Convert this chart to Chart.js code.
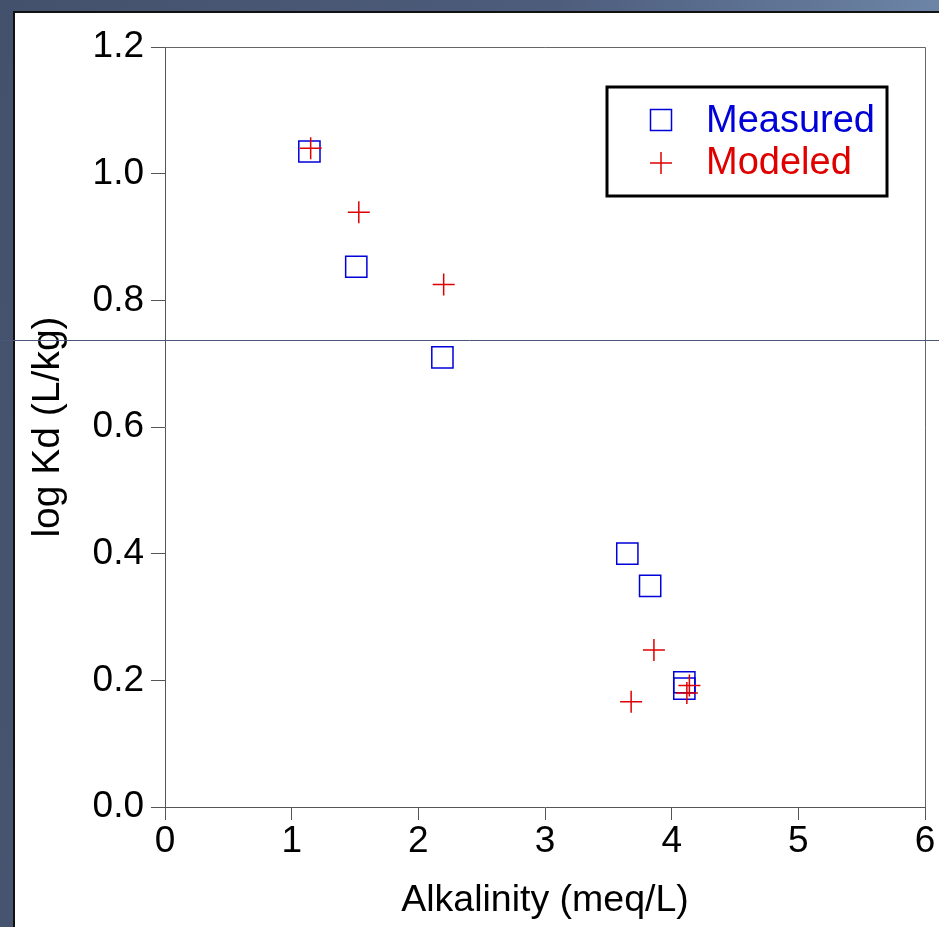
<!DOCTYPE html>
<html>
<head>
<meta charset="utf-8">
<script src="https://cdn.jsdelivr.net/npm/chart.js@4/dist/chart.umd.min.js"></script>
<style>
  html, body { margin:0; padding:0; width:939px; height:927px; overflow:hidden; }
  body { background: linear-gradient(100deg, #44516c 0%, #4d5c7b 50%, #6c84a6 85%, #7f98b8 100%); position:relative; }
  #panel { position:absolute; left:13px; top:11px; width:930px; height:920px; background:#fff; border-left:2px solid #111; border-top:2px solid #111; }
  #c { position:absolute; left:0; top:0; }
</style>
</head>
<body>
<div id="panel"></div>
<canvas id="c" width="939" height="927"></canvas>
<script>
// ---- data ----
const seriesNames = ["Measured", "Modeled"];
const measuredX = [1.14, 1.51, 2.19, 3.65, 3.83, 4.10, 4.10];
const measuredY = [1.035, 0.853, 0.710, 0.400, 0.349, 0.197, 0.187];
const modeledX  = [1.15, 1.53, 2.20, 3.86, 3.68, 4.14, 4.12];
const modeledY  = [1.040, 0.939, 0.825, 0.248, 0.166, 0.192, 0.180];
const xTickValues = [0, 1, 2, 3, 4, 5, 6];
const yTickValues = [0.0, 0.2, 0.4, 0.6, 0.8, 1.0, 1.2];
const xTitle = "Alkalinity (meq/L)";
const yTitle = "log Kd (L/kg)";

const FONT = "'Liberation Sans', Arial, sans-serif";
const BLUE = "#0000d8";
const RED = "#e00000";

const toPts = (xs, ys) => xs.map((x, i) => ({x: x, y: ys[i]}));

const extras = {
  id: 'extras',
  afterDraw(chart) {
    const ctx = chart.ctx;
    const a = chart.chartArea;
    ctx.save();
    // top and right frame of plot
    ctx.strokeStyle = '#666';
    ctx.lineWidth = 1;
    ctx.beginPath();
    ctx.moveTo(a.left, a.top + 0.5);
    ctx.lineTo(a.right + 0.5, a.top + 0.5);
    ctx.lineTo(a.right + 0.5, a.bottom);
    ctx.stroke();

    // legend
    const bx = 607, by = 87, bw = 280, bh = 109;
    ctx.lineWidth = 3;
    ctx.strokeStyle = '#000';
    ctx.strokeRect(bx, by, bw, bh);
    ctx.font = "38px " + FONT;
    ctx.textBaseline = 'middle';
    ctx.textAlign = 'left';
    // measured marker
    ctx.lineWidth = 1.5;
    ctx.strokeStyle = BLUE;
    ctx.strokeRect(650.5, 109.5, 21, 21);
    ctx.fillStyle = BLUE;
    ctx.fillText(seriesNames[0], 706, 122);
    // modeled marker
    ctx.strokeStyle = RED;
    ctx.beginPath();
    ctx.moveTo(650, 163); ctx.lineTo(672, 163);
    ctx.moveTo(661, 152); ctx.lineTo(661, 174);
    ctx.stroke();
    ctx.fillStyle = RED;
    ctx.fillText(seriesNames[1], 706, 164);

    // thin horizontal slide line
    ctx.strokeStyle = '#4a5878';
    ctx.lineWidth = 1;
    ctx.beginPath();
    ctx.moveTo(0, 340.5);
    ctx.lineTo(939, 340.5);
    ctx.stroke();
    ctx.restore();
  }
};

new Chart(document.getElementById('c'), {
  type: 'scatter',
  data: {
    datasets: [
      {
        label: seriesNames[0],
        data: toPts(measuredX, measuredY),
        pointStyle: 'rect',
        pointRadius: 15,
        pointHoverRadius: 15,
        borderColor: BLUE,
        backgroundColor: 'rgba(0,0,0,0)',
        pointBorderWidth: 1.5,
        order: 1
      },
      {
        label: seriesNames[1],
        data: toPts(modeledX, modeledY),
        pointStyle: 'cross',
        pointRadius: 11,
        pointHoverRadius: 11,
        borderColor: RED,
        backgroundColor: RED,
        pointBorderWidth: 1.5,
        order: 0
      }
    ]
  },
  options: {
    responsive: false,
    devicePixelRatio: 1,
    animation: false,
    layout: { autoPadding: false, padding: { left: 0, top: 47, right: 14, bottom: 0 } },
    plugins: { legend: { display: false }, tooltip: { enabled: false } },
    scales: {
      x: {
        type: 'linear',
        min: 0, max: 6,
        afterBuildTicks: s => { s.ticks = xTickValues.map(v => ({value: v})); },
        afterFit: s => { s.height = 120; s.paddingLeft = 0; s.paddingRight = 0; },
        ticks: { color: '#000', font: { family: FONT, size: 37 }, padding: 0, maxRotation: 0,
                 callback: v => String(v) },
        grid: { display: true, drawOnChartArea: false, drawTicks: true, tickLength: 13, color: '#555', lineWidth: 1 },
        border: { display: true, color: '#555', width: 1 },
        title: { display: true, text: xTitle, color: '#000', font: { family: FONT, size: 37.5 }, padding: { top: 7.5, bottom: 4 } }
      },
      y: {
        type: 'linear',
        min: 0, max: 1.2,
        afterBuildTicks: s => { s.ticks = yTickValues.map(v => ({value: v})); },
        afterFit: s => { s.width = 165; s.paddingTop = 0; s.paddingBottom = 0; },
        ticks: { color: '#000', font: { family: FONT, size: 37 }, padding: 7,
                 callback: v => Number(v).toFixed(1) },
        grid: { display: true, drawOnChartArea: false, drawTicks: true, tickLength: 14, color: '#555', lineWidth: 1 },
        border: { display: true, color: '#555', width: 1 },
        title: { display: true, text: yTitle, color: '#000', font: { family: FONT, size: 39 }, padding: { top: 24.8, bottom: 4 } }
      }
    }
  },
  plugins: [extras]
});
</script>
</body>
</html>
